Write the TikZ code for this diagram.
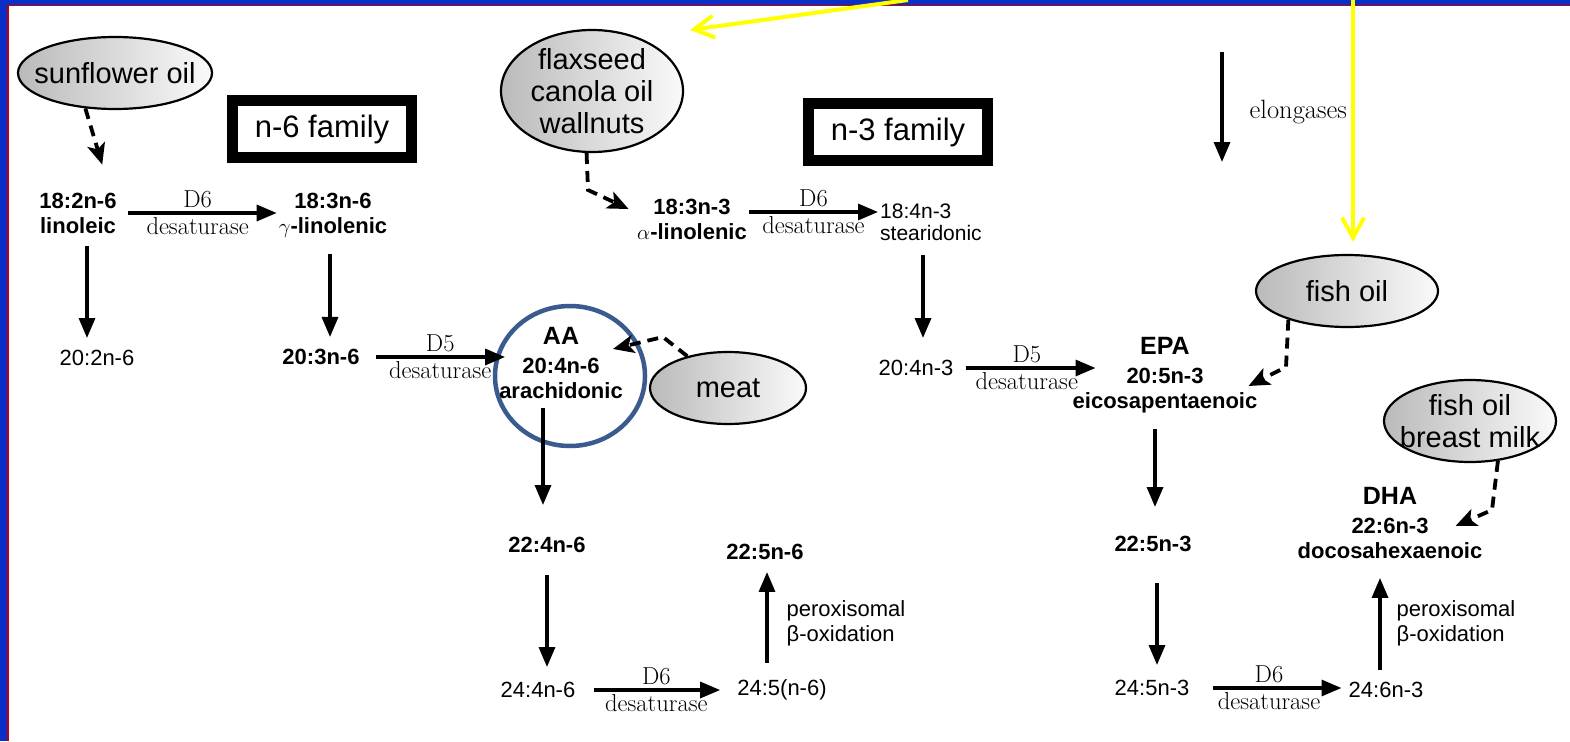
\documentclass[tikz,border=0pt]{standalone}
\usepackage{fontspec}
\setsansfont{Liberation Sans}
\usetikzlibrary{arrows.meta,positioning,shapes.geometric}

\definecolor{frameblue}{HTML}{0A2FC8}
\definecolor{framered}{HTML}{C00000}
\definecolor{ringblue}{HTML}{3B5B8E}
\definecolor{hintyellow}{HTML}{FFFF00}

\newcommand{\abbr}[1]{{\fontsize{25}{25}\selectfont #1}}

\begin{document}
\begin{tikzpicture}
  [x=1pt, y=-1pt,
  acid/.style={inner sep=2pt, align=center, font=\sffamily\fontsize{22}{25}\selectfont},
  acidb/.style={acid, font=\sffamily\bfseries\fontsize{22}{25}\selectfont},
  food/.style={ellipse, draw, line width=2.2pt, left color=black!27, right color=black!2,
    inner sep=0pt, align=center, font=\sffamily\fontsize{29}{32}\selectfont},
  family/.style={rectangle, draw, line width=11pt, fill=white, minimum width=179pt,
    minimum height=57pt, font=\sffamily\fontsize{31}{32}\selectfont},
  ring/.style={ellipse, draw=ringblue, line width=4.5pt, inner sep=0pt,
    minimum width=150pt, minimum height=140pt},
  enz/.style={inner sep=3pt, font=\fontsize{24.5}{26}\selectfont},
  flow/.style={line width=3.3pt, -{Triangle[length=20pt, width=16pt]}},
  feed/.style={line width=3.8pt, dash pattern=on 11pt off 7pt,
    -{Stealth[length=21pt, width=18pt, inset=5pt]}},
  hint/.style={draw=hintyellow, line width=4pt, -{Straight Barb[length=20pt, width=22pt]}}]

  % slide frame
  \fill[white] (0,0) rectangle (1570,741);
  \fill[frameblue] (0,0) rectangle (1570,5);
  \fill[frameblue] (0,0) rectangle (7,741);
  \fill[framered] (7,5) rectangle (1570,6.5);
  \fill[framered] (7,5) rectangle (8.5,741);
  \useasboundingbox (0,0) rectangle (1570,741);

  % sources
  \node[food, minimum width=194pt, minimum height=72pt, inner xsep=-14pt] (sun) at (115,73) {sunflower oil};
  \node[food, minimum width=182pt, minimum height=122pt] (flax) at (592,91) {flaxseed\\canola oil\\wallnuts};
  \node[food, minimum width=156pt, minimum height=72pt] (meat) at (728,388) {meat};
  \node[food, minimum width=182pt, minimum height=72pt] (fish) at (1347,291) {fish oil};
  \node[food, minimum width=172pt, minimum height=82pt, inner xsep=-11pt] (milk) at (1470,421) {fish oil\\breast milk};

  \node[family] (n6) at (322,129) {n-6 family};
  \node[family] (n3) at (898,132) {n-3 family};

  % n-6 series
  \node[acidb] (la) at (78,213) {18:2n-6\\linoleic};
  \node[acidb] (gla) at (333,215) {18:3n-6\\$\gamma$-linolenic};
  \node[acid] (eda) at (97,358) {20:2n-6};
  \node[acidb] (dgla) at (321,357) {20:3n-6};
  \node[ring] (aaring) at (570,376) {};
  \node[acidb] (aa) at (561,363) {\abbr{AA}\\[4pt]20:4n-6\\arachidonic};
  \node[acidb] (adr) at (547,545) {22:4n-6};
  \node[acid] (tta) at (538,690) {24:4n-6};
  \node[acid] (tpa) at (782,690) {24:5(n-6)};
  \node[acidb] (dpa6) at (765,552) {22:5n-6};

  % n-3 series
  \node[acidb] (ala) at (692,219) {18:3n-3\\$\alpha$-linolenic};
  \node[acid, align=left, anchor=west, font=\sffamily\fontsize{21}{22}\selectfont] (sda) at (878,222) {18:4n-3\\stearidonic};
  \node[acid] (eta) at (916,368) {20:4n-3};
  \node[acidb] (epa) at (1165,375) {\abbr{EPA}\\[4pt]20:5n-3\\eicosapentaenoic};
  \node[acidb] (dpa3) at (1153,544) {22:5n-3};
  \node[acid] (tpa3) at (1152,688) {24:5n-3};
  \node[acid] (tha) at (1386,690) {24:6n-3};
  \node[acidb] (dha) at (1390,523) {\abbr{DHA}\\[4pt]22:6n-3\\docosahexaenoic};

  \coordinate (elotop) at (1222,52);
  \coordinate (elobot) at (1222,162);
  \coordinate (flaxbend) at (588,190);
  \coordinate (meatbend) at (663,337);
  \coordinate (fishbend) at (1286,367);
  \coordinate (milkbend) at (1492,510);

  \draw[flow] (elotop) -- node[enz, right=23pt, pos=0.55, font=\fontsize{26.5}{28}\selectfont] {elongases} (elobot);

  \draw[flow, shorten <=9pt] (la.east) -- node[enz, above] {D6} node[enz, below] {desaturase} (la.east -| gla.west);
  \draw[flow, shorten <=11pt, shorten >=10pt] ([xshift=9pt]la.south) -- ([xshift=9pt]la.south |- eda.north);
  \draw[flow, shorten <=15pt, shorten >=10pt] ([xshift=-3pt]gla.south) -- ([xshift=-3pt]gla.south |- dgla.north);
  \draw[flow, shorten <=14pt, shorten >=-8pt] (dgla.east) -- node[enz, above, pos=0.58] {D5} node[enz, below, pos=0.58] {desaturase} (dgla.east -| aa.west);
  \draw[flow, shorten <=7pt, shorten >=30pt] ([xshift=-18pt]aa.south) -- ([xshift=-18pt]aa.south |- adr.north);
  \draw[flow, shorten <=20pt, shorten >=13pt] (adr.south) -- (adr.south |- tta.north);
  \draw[flow, shorten <=16pt, shorten >=15pt] (tta.east) -- node[enz, above] {D6} node[enz, below] {desaturase} (tpa.west);
  \draw[flow, shorten <=15pt, shorten >=10pt] ([xshift=-15pt]tpa.north) -- node[acid, align=left, right=16pt, pos=0.47] {peroxisomal\\β-oxidation} ([xshift=-15pt]tpa.north |- dpa6.south);

  \draw[flow] ([yshift=7pt]ala.east) -- node[enz, above] {D6} node[enz, below] {desaturase} ([yshift=7pt]ala.east -| sda.west);
  \draw[flow, shorten <=12pt, shorten >=20pt] ([xshift=7pt]eta.north |- sda.south) -- ([xshift=7pt]eta.north);
  \draw[flow, shorten <=10pt, shorten >=-25pt] (eta.east) -- node[enz, above, pos=0.62] {D5} node[enz, below, pos=0.62] {desaturase} (eta.east -| epa.west);
  \draw[flow, shorten <=14pt, shorten >=27pt] ([xshift=-10pt]epa.south) -- ([xshift=-10pt]epa.south |- dpa3.north);
  \draw[flow, shorten <=29pt, shorten >=13pt] ([xshift=4pt]dpa3.south) -- ([xshift=4pt]dpa3.south |- tpa3.north);
  \draw[flow, shorten <=21pt, shorten >=5pt] (tpa3.east) -- node[enz, above] {D6} node[enz, below] {desaturase} (tpa3.east -| tha.west);
  \draw[flow, shorten <=10pt, shorten >=17pt] ([xshift=-6pt]tha.north) -- node[acid, align=left, right=13pt, pos=0.48] {peroxisomal\\β-oxidation} ([xshift=-6pt]tha.north |- dha.south);

  % dietary sources
  \draw[feed, shorten >=27pt] (sun.-130) -- ([xshift=32pt]la.north);
  \draw[feed, shorten >=7pt] (flax.-95) -- (flaxbend) -- ([yshift=7pt]ala.west);
  \draw[feed] (meat.142) -- (meatbend) -- ([xshift=-12pt, yshift=14pt]aa.east);
  \draw[feed] (fish.-154) -- (fishbend) -- ([xshift=-11pt, yshift=-11pt]epa.east);
  \draw[feed] (milk.-55) -- (milkbend) -- ([xshift=-29pt, yshift=-3pt]dha.east);

  % pointers from the slide
  \coordinate (hintsrc1) at (908,0);
  \coordinate (hinttip1) at (690,30);
  \coordinate (hintsrc2) at (1353,0);
  \draw[hint] (hintsrc1) -- (hinttip1);
  \draw[hint, shorten >=12pt] (hintsrc2) -- (hintsrc2 |- fish.north);

\end{tikzpicture}
\end{document}
